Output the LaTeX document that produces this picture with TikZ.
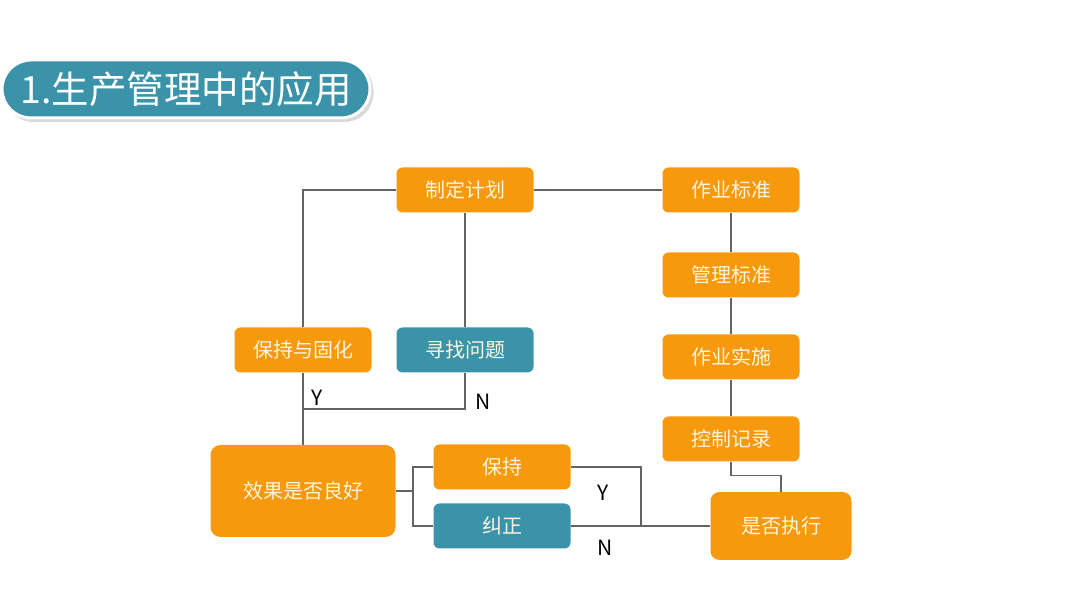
\documentclass[tikz,border=0pt]{standalone}
\usepackage{fontspec}
\setmainfont{Noto Sans CJK SC}
\usepackage{xcolor}

\definecolor{boxorange}{RGB}{247,153,12}
\definecolor{boxteal}{RGB}{58,147,168}
\definecolor{boxtext}{RGB}{255,246,222}
\definecolor{linegray}{RGB}{100,100,100}

\begin{document}
\begin{tikzpicture}[x=1pt,y=1pt,
		box/.style={rectangle, rounded corners=6pt, fill=boxorange, text=boxtext,
			minimum width=137pt, minimum height=45pt, inner sep=0pt,
			font=\fontsize{20}{23}\selectfont},
		tealbox/.style={box, fill=boxteal},
		bigbox/.style={box, minimum width=141pt, minimum height=68pt, rounded corners=9pt},
		conn/.style={draw=linegray, line width=1.5pt},
		yn/.style={font=\fontsize{21}{23}\selectfont, text=black}]
					\useasboundingbox (0,0) rectangle (1080,608);
					
					% Title
					\fill[black!15, rounded corners=29pt] (4.5,486) rectangle (373.5,546);
					\node[rectangle, rounded corners=29pt, fill=boxteal, draw=white, line width=3pt,
						minimum width=368pt, minimum height=58pt, text=white,
						font=\fontsize{37.5}{40}\selectfont] (title) at (186,519) {1.生产管理中的应用};
					
					% Boxes
					\node[box] (plan) at (465,418) {制定计划};
					\node[box] (keep) at (303,258) {保持与固化};
					\node[tealbox] (find) at (465,258) {寻找问题};
					\node[box, minimum width=185pt, minimum height=92pt, rounded corners=10pt] (eff) at (303,117) {效果是否良好};
					\node[box] (hold) at (502,141) {保持};
					\node[tealbox] (fix) at (502,82) {纠正};
					\node[box] (std) at (731,418) {作业标准};
					\node[box] (mgmt) at (731,333) {管理标准};
					\node[box] (work) at (731,251) {作业实施};
					\node[box] (rec) at (731,169) {控制记录};
					\node[bigbox] (check) at (781,82) {是否执行};
					
					% Connectors
					\coordinate (join) at (303,199);
					\coordinate (split) at (413,117);
					\coordinate (merge) at (641,82);
					\draw[conn] (plan.west) -| (keep.north);
					\draw[conn] (plan.east) -- (std.west);
					\draw[conn] (plan.south) -- (find.north);
					\draw[conn] (std) -- (mgmt) -- (work) -- (rec);
					\draw[conn] (rec.south) -- ++(0,-14) -| (check.north);
					\draw[conn] (keep.south) -- (eff.north);
					\draw[conn] (find.south) |- (join);
					\draw[conn] (eff.east) -- (split);
					\draw[conn] (hold.west) -| (split) |- (fix.west);
					\draw[conn] (hold.east) -| (merge);
					\draw[conn] (fix.east) -- (check.west);
					
					% Labels
					\node[yn] (ya) at (317,210) {Y};
					\node[yn] (na) at (483,206) {N};
					\node[yn] (yb) at (603,115) {Y};
					\node[yn] (nb) at (605,60) {N};
				\end{tikzpicture}
\end{document}
